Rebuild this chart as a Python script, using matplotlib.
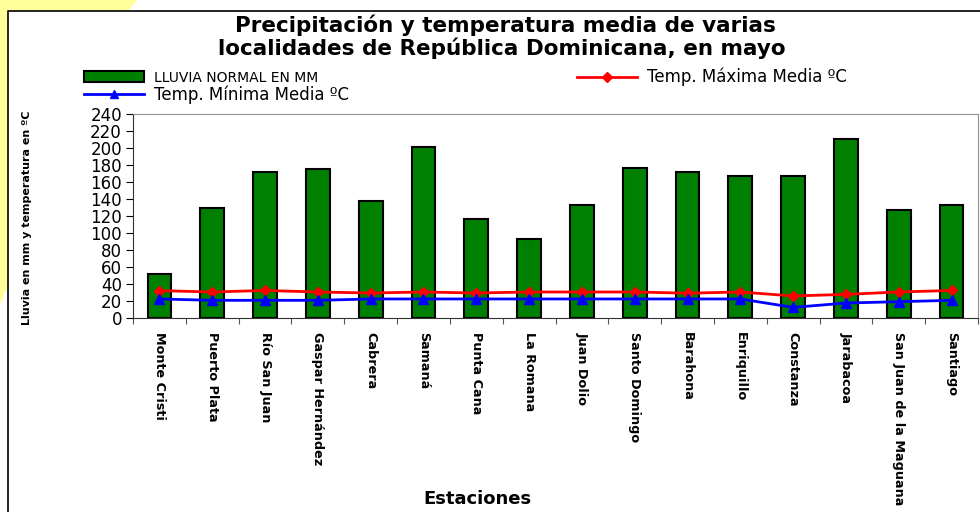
import matplotlib

matplotlib.use("Agg")
import matplotlib.pyplot as plt
from matplotlib.patches import Polygon, Patch
from matplotlib.lines import Line2D

# data
estaciones = ["Monte Cristi", "Puerto Plata", "Río San Juan", "Gaspar Hernández",
              "Cabrera", "Samaná", "Punta Cana", "La Romana", "Juan Dolio",
              "Santo Domingo", "Barahona", "Enriquillo", "Constanza",
              "Jarabacoa", "San Juan de la Maguana", "Santiago"]
lluvia = [52, 130, 172, 175, 138, 201, 117, 93, 133, 177, 172, 167, 167, 211, 127, 133]
temp_max = [32.2, 30.6, 32.4, 30.6, 29.4, 30.6, 29.4, 30.6, 30.6, 30.6, 29.2, 30.6,
            25.9, 27.8, 30.6, 32.4]
temp_min = [22.4, 20.8, 20.8, 20.8, 22.4, 22.4, 22.4, 22.4, 22.4, 22.4, 22.4, 22.4,
            12.5, 17.6, 19.2, 20.8]
y_ticks = list(range(0, 241, 20))

W, H = 980, 512
NARROW = ["Liberation Sans Narrow", "DejaVu Sans"]


def px(x, y):
    """pixel coords (origin top-left) -> figure fraction"""
    return x / W, 1 - y / H


fig = plt.figure(figsize=(W / 100, H / 100), dpi=100)
fig.patch.set_facecolor("white")

# yellow slide corner + chart border
fig.add_artist(Polygon([px(0, 0), px(137, 0), px(128, 11), px(8, 11), px(8, 285), px(0, 305)],
                       closed=True, transform=fig.transFigure, facecolor="#FFFF99",
                       edgecolor="none", zorder=0))
fig.add_artist(Line2D([8 / W, 8 / W, 1], [0, 1 - 11 / H, 1 - 11 / H],
                      transform=fig.transFigure, color="black", lw=1.2))

left, right, top, bottom = 133, 978, 114, 318
ax = fig.add_axes([left / W, 1 - bottom / H, (right - left) / W, (bottom - top) / H])

x = list(range(len(estaciones)))
ax.bar(x, lluvia, width=0.45, color="#008000", edgecolor="black", linewidth=1.5,
       zorder=2)
ax.plot(x, temp_max, color="#FF0000", lw=2, marker="D", markersize=5, zorder=3)
ax.plot(x, temp_min, color="#0000FF", lw=2, marker="^", markersize=7, zorder=3)

ax.set_xlim(-0.5, len(estaciones) - 0.5)
ax.set_ylim(0, 240)
ax.set_yticks(y_ticks)
ax.set_yticklabels([str(v) for v in y_ticks], fontsize=12)
ax.tick_params(axis="y", length=5, width=0.8, pad=3, colors="black")

# boundary ticks (major) and centred labels (minor)
ax.set_xticks([i - 0.5 for i in range(len(estaciones) + 1)])
ax.set_xticklabels([])
ax.set_xticks(x, minor=True)
ax.set_xticklabels(estaciones, minor=True, rotation=-90, ha="center", va="top",
                   fontsize=9.2, fontweight="bold", family=NARROW)
ax.tick_params(axis="x", which="major", length=4, width=0.8, colors="#555555")
ax.tick_params(axis="x", which="minor", length=0, pad=10)

for side in ("top", "right"):
    ax.spines[side].set_color("#909090")
for side in ("left", "bottom"):
    ax.spines[side].set_color("#333333")

# titles and axis labels
fig.text(*px(505, 25), "Precipitación y temperatura media de varias", ha="center",
         va="center", fontsize=15.5, fontweight="bold")
fig.text(*px(502, 48), "localidades de República Dominicana, en mayo", ha="center",
         va="center", fontsize=15.5, fontweight="bold")
fig.text(*px(27, 218), "Lluvia en mm y temperatura en ºC", rotation=90, ha="center",
         va="center", fontsize=8, fontweight="bold", family=NARROW)
fig.text(*px(477, 499), "Estaciones", ha="center", va="center", fontsize=13,
         fontweight="bold")

# legend: two columns, rain + min in the first, max in the second
handles = [
    Patch(facecolor="#008000", edgecolor="black", linewidth=1.5),
    Line2D([], [], color="#0000FF", lw=2, marker="^", markersize=6),
    Line2D([], [], color="#FF0000", lw=2, marker="D", markersize=5),
]
labels = ["LLUVIA NORMAL EN MM", "Temp. Mínima Media ºC", "Temp. Máxima Media ºC"]
leg = fig.legend(handles, labels, ncol=2, loc="upper left",
                 bbox_to_anchor=px(84, 68), frameon=False, fontsize=12,
                 handlelength=3.6, handleheight=0.6, handletextpad=0.6,
                 columnspacing=13.7, labelspacing=-0.02, borderpad=0,
                 borderaxespad=0)
leg.get_texts()[0].set_fontsize(10)

fig.savefig("out.png", dpi=100)
